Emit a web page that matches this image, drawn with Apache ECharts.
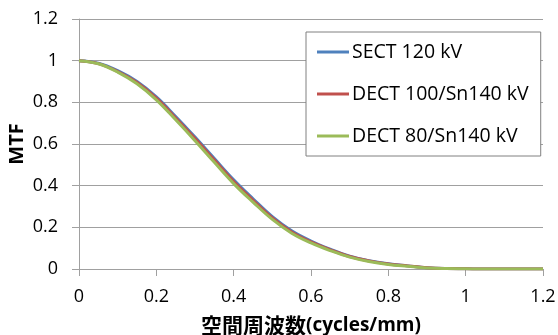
<!DOCTYPE html>
<html>
<head>
<meta charset="utf-8">
<script src="https://cdn.jsdelivr.net/npm/echarts@6/dist/echarts.min.js"></script>
<style>html,body{margin:0;padding:0;background:#fff}#c{width:558px;height:335px}</style>
</head>
<body>
<div id="c"></div>
<script>
var freq = [0, 0.05, 0.1, 0.15, 0.2, 0.25, 0.3, 0.35, 0.4, 0.45, 0.5, 0.55, 0.6, 0.65, 0.7, 0.75, 0.8, 0.85, 0.9, 0.95, 1.0, 1.05, 1.1, 1.15, 1.2];
var sect120 = [1.000, 0.988, 0.952, 0.900, 0.826, 0.732, 0.633, 0.530, 0.428, 0.337, 0.251, 0.183, 0.134, 0.095, 0.062, 0.040, 0.025, 0.015, 0.006, 0.002, 0.001, 0, 0, 0, 0];
var dect100 = [1.000, 0.986, 0.948, 0.895, 0.820, 0.725, 0.626, 0.523, 0.420, 0.330, 0.245, 0.178, 0.130, 0.092, 0.060, 0.039, 0.024, 0.015, 0.006, 0.002, 0.001, 0, 0, 0, 0];
var dect80 = [1.000, 0.985, 0.945, 0.889, 0.812, 0.716, 0.616, 0.512, 0.410, 0.321, 0.238, 0.172, 0.125, 0.088, 0.057, 0.036, 0.022, 0.013, 0.005, 0.002, 0.001, 0, 0, 0, 0];
var seriesNames = ['SECT 120 kV', 'DECT 100/Sn140 kV', 'DECT 80/Sn140 kV'];
var seriesColors = ['#4F81BD', '#C0504D', '#9BBB59'];
var xTicks = [0, 0.2, 0.4, 0.6, 0.8, 1, 1.2];
var yTicks = [0, 0.2, 0.4, 0.6, 0.8, 1, 1.2];

function pairs(v) { return freq.map(function (f, i) { return [f, v[i]]; }); }
var allData = [sect120, dect100, dect80];

var FONT = 'Open Sans';
var chart = echarts.init(document.getElementById('c'), null, { renderer: 'canvas' });
chart.setOption({
  animation: false,
  backgroundColor: '#fff',
  textStyle: { fontFamily: FONT, color: '#000' },
  grid: { left: 79, right: 15, top: 19, bottom: 66, containLabel: false, outerBoundsMode: 'none' },
  legend: {
    orient: 'vertical',
    left: 306, top: 32,
    padding: [10, 12, 10, 11],
    itemGap: 22,
    itemWidth: 32, itemHeight: 3,
    icon: 'rect',
    borderColor: '#808080', borderWidth: 1,
    backgroundColor: '#fff',
    textStyle: { fontFamily: FONT, fontSize: 19.5, color: '#000', padding: [0, 0, 0, -2] },
    data: seriesNames.map(function (n, i) { return { name: n, itemStyle: { color: seriesColors[i] } }; })
  },
  xAxis: {
    type: 'value', min: 0, max: 1.2, interval: 0.2,
    name: '{c|空間周波数}{l|(cycles/mm)}',
    nameLocation: 'middle', nameGap: 46, nameMoveOverlap: false,
    nameTextStyle: {
      rich: {
        c: { fontFamily: 'Noto Sans CJK JP', fontSize: 21, fontWeight: 'bold', color: '#000' },
        l: { fontFamily: FONT, fontSize: 19, fontWeight: 'bold', color: '#000' }
      }
    },
    axisLine: { show: true, lineStyle: { color: '#A0A0A0', width: 1 } },
    axisTick: { show: true, length: 7, inside: false, lineStyle: { color: '#A0A0A0' } },
    splitLine: { show: false },
    axisLabel: {
      fontFamily: FONT, fontSize: 18, color: '#000', margin: 19,
      formatter: function (v) { var r = Math.round(v * 10) / 10; return xTicks.indexOf(r) >= 0 ? String(r) : ''; }
    }
  },
  yAxis: {
    type: 'value', min: 0, max: 1.2, interval: 0.2,
    name: 'MTF', nameLocation: 'middle', nameGap: 52, nameRotate: 90, nameMoveOverlap: false,
    nameTextStyle: { fontFamily: FONT, fontSize: 20, fontWeight: 'bold', color: '#000' },
    axisLine: { show: true, lineStyle: { color: '#A0A0A0', width: 1 } },
    axisTick: { show: true, length: 7, inside: false, lineStyle: { color: '#A0A0A0' } },
    splitLine: { show: true, lineStyle: { color: '#A0A0A0', width: 1 } },
    axisLabel: {
      fontFamily: FONT, fontSize: 18, color: '#000', margin: 21,
      formatter: function (v) { var r = Math.round(v * 10) / 10; return yTicks.indexOf(r) >= 0 ? String(r) : ''; }
    }
  },
  series: seriesNames.map(function (n, i) {
    return {
      name: n, type: 'line', data: pairs(allData[i]),
      smooth: 0.4, showSymbol: false, symbol: 'none',
      lineStyle: { color: seriesColors[i], width: 3 },
      itemStyle: { color: seriesColors[i] }
    };
  })
});
</script>
</body>
</html>
